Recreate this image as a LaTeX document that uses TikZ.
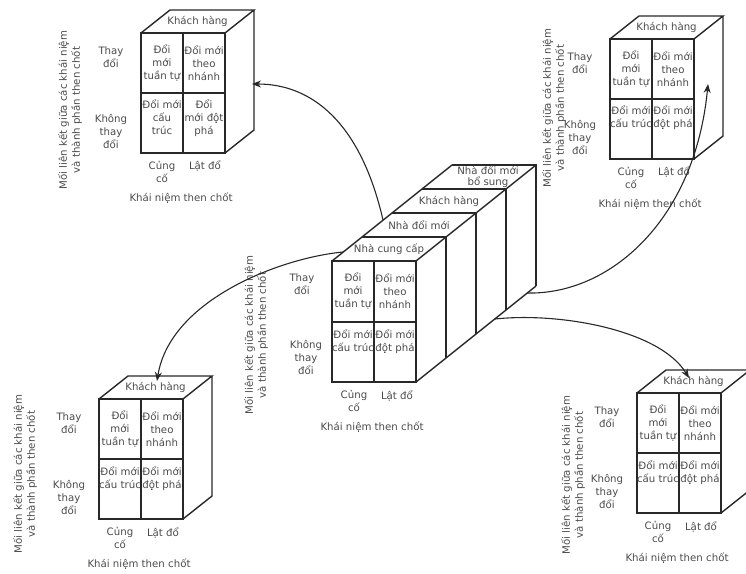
\documentclass[tikz,border=0pt]{standalone}
\usepackage{fontspec}
\setmainfont{DejaVu Sans}
\usepackage{tikz}
\usetikzlibrary{arrows.meta,calc}
\definecolor{ink}{RGB}{40,40,40}
\definecolor{txt}{RGB}{75,75,75}

% one small cube: name, x, y of front top-left corner, lower-left and lower-right cell texts
\newcommand{\conceptcube}[5]{%
  \begin{scope}[shift={(#2,#3)}]
    \draw[cube] (0,0) rectangle (84,120);
    \draw[cube] (42,0) -- (42,120) (0,60) -- (84,60);
    \draw[cube] (0,0) -- (29,-23) -- (113,-23) -- (84,0) (113,-23) -- (113,97) -- (84,120);
    \node[toplab] (#1-top) at (56.5,-11.5) {Khách hàng};
    \node[cell] (#1-a) at (21,30) {Đổi\\mới\\tuần tự};
    \node[cell] (#1-b) at (63,30) {Đổi mới\\theo\\nhánh};
    \node[cell,anchor=north] (#1-c) at (21,67) {#4};
    \node[cell,anchor=north] (#1-d) at (63,67) {#5};
    \node[lab] (#1-y1) at (-30,24) {Thay\\đổi};
    \node[lab] (#1-y2) at (-30,98) {Không\\thay\\đổi};
    \node[lab,anchor=north] (#1-x1) at (21,128) {Củng\\cố};
    \node[lab,anchor=north] (#1-x2) at (64,128) {Lật đổ};
    \node[lab] (#1-xt) at (40,165) {Khái niệm then chốt};
  \end{scope}}

\begin{document}
\begin{tikzpicture}[x=1pt,y=-1pt,>={Stealth[length=9pt,width=7pt]},
  cube/.style={draw=ink,line width=1.4pt,line join=miter},
  cell/.style={font=\fontsize{10.2}{13}\selectfont,text=txt,align=center,inner sep=0pt},
  toplab/.style={cell},
  lab/.style={cell},
  link/.style={draw=ink,line width=1.1pt,->}]
\useasboundingbox (0,0) rectangle (746,573);

% the four small cubes
\conceptcube{tl}{141}{33}{Đổi mới\\cấu\\trúc}{Đổi\\mới đột\\phá}
\conceptcube{tr}{610}{39}{Đổi mới\\cấu trúc}{Đổi mới\\đột phá}
\conceptcube{bl}{99}{399}{Đổi mới\\cấu trúc}{Đổi mới\\đột phá}
\conceptcube{br}{637}{393}{Đổi mới\\cấu trúc}{Đổi mới\\đột phá}
\foreach \v/\vx/\vy in {tl/70/110,tr/554/108,bl/25/474,br/573/475,ctr/256/335}
  \node[lab,rotate=90] (\v-axis) at (\vx,\vy) {Mối liên kết giữa các khái niệm\\và thành phần then chốt};

% the centre cube, four slices deep
\draw[cube] (332,261) rectangle (416,382);
\draw[cube] (374,261) -- (374,382) (332,322) -- (416,322);
\foreach \k in {1,...,4}
  \draw[cube] (332+30*\k,261-24*\k) -- (416+30*\k,261-24*\k) -- (416+30*\k,382-24*\k);
\draw[cube] (332,261) -- (452,165) (416,261) -- (536,165) (416,382) -- (536,286);
\foreach \k/\t in {0/Nhà cung cấp,1/Nhà đổi mới,2/Khách hàng}
  \node[toplab] (slice\k) at (389+30*\k,249-24*\k) {\t};
\node[toplab,font=\fontsize{10.2}{11}\selectfont] (slice3) at (488,177) {Nhà đổi mới\\bổ sung};
\node[cell] (ctr-a) at (353,291) {Đổi\\mới\\tuần tự};
\node[cell] (ctr-b) at (395,291) {Đổi mới\\theo\\nhánh};
\node[cell,anchor=north] (ctr-c) at (353,329) {Đổi mới\\cấu trúc};
\node[cell,anchor=north] (ctr-d) at (395,329) {Đổi mới\\đột phá};
\node[lab] (ctr-y1) at (302,284) {Thay\\đổi};
\node[lab] (ctr-y2) at (306,357) {Không\\thay\\đổi};
\node[lab,anchor=north] (ctr-x1) at (354,390) {Củng\\cố};
\node[lab,anchor=north] (ctr-x2) at (397,390) {Lật đổ};
\node[lab] (ctr-xt) at (372,427) {Khái niệm then chốt};

% links from the centre cube to the small ones
\coordinate (up-l) at (383,220);  \coordinate (tl-in) at (252,84);
\coordinate (side-l) at (343,252); \coordinate (bl-in) at (157,381);
\coordinate (side-r) at (527,293); \coordinate (tr-in) at (708,84);
\coordinate (low-r) at (495,319); \coordinate (br-in) at (689,378);
\draw[link] (up-l) .. controls (360,120) and (310,84) .. (tl-in);
\draw[link] (side-l) .. controls (280,258) and (170,300) .. (bl-in);
\draw[link] (side-r) .. controls (610,295) and (695,220) .. (tr-in);
\draw[link] (low-r) .. controls (560,312) and (660,330) .. (br-in);
\end{tikzpicture}
\end{document}
